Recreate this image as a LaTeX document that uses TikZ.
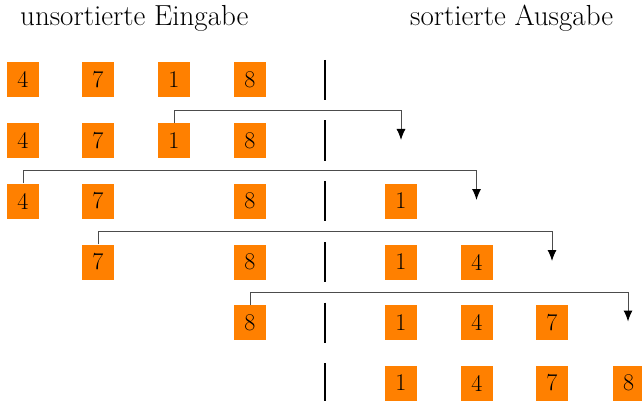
\documentclass[tikz,border=0pt]{standalone}
\usetikzlibrary{arrows.meta}
\definecolor{boxorange}{HTML}{FF8000}
\begin{document}
\begin{tikzpicture}[x=1pt,y=-1pt,
  numbox/.style={fill=boxorange,minimum width=32pt,minimum height=35pt,inner sep=0pt,font=\fontsize{24}{28}\selectfont},
  sepbar/.style={line width=1.8pt,black},
  moveline/.style={draw=black!70,line width=1pt,-{Latex[length=11pt,width=9pt,black]}},
  heading/.style={font=\fontsize{29}{33}\selectfont,inner sep=0pt,anchor=base west}]
\useasboundingbox (0,0) rectangle (642,401);
\node[heading] (hin) at (20,26) {unsortierte Eingabe};
\node[heading] (hout) at (410,26) {sortierte Ausgabe};
% row 1
\node[numbox] (a4) at (23,79.5) {4};
\node[numbox] (a7) at (98,79.5) {7};
\node[numbox] (a1) at (174,79.5) {1};
\node[numbox] (a8) at (250,79.5) {8};
% row 2
\node[numbox] (b4) at (23,140.5) {4};
\node[numbox] (b7) at (98,140.5) {7};
\node[numbox] (b1) at (174,140.5) {1};
\node[numbox] (b8) at (250,140.5) {8};
% row 3
\node[numbox] (c4) at (23,201) {4};
\node[numbox] (c7) at (98,201) {7};
\node[numbox] (c8) at (250,201) {8};
\node[numbox] (c1) at (401,201) {1};
% row 4
\node[numbox] (d7) at (98,262) {7};
\node[numbox] (d8) at (250,262) {8};
\node[numbox] (d1) at (401,262) {1};
\node[numbox] (d4) at (477,262) {4};
% row 5
\node[numbox] (e8) at (250,322.5) {8};
\node[numbox] (e1) at (401,322.5) {1};
\node[numbox] (e4) at (477,322.5) {4};
\node[numbox] (e7) at (552,322.5) {7};
% row 6
\node[numbox] (f1) at (401,383) {1};
\node[numbox] (f4) at (477,383) {4};
\node[numbox] (f7) at (552,383) {7};
\node[numbox] (f8) at (628.5,383) {8};
% separator bars
\foreach \r/\yc in {1/80,2/140.5,3/201,4/262,5/322.5,6/383}{
  \coordinate (bt\r) at (325,\yc-20);
  \coordinate (bb\r) at (325,\yc+20);
  \draw[sepbar] (bt\r) -- (bb\r);
}
% arrow targets
\coordinate (t2) at (401,140);
\coordinate (t3) at (476.5,200);
\coordinate (t4) at (552,261);
\coordinate (t5) at (628,321.5);
\draw[moveline] (b1.north) |- ([yshift=12.5pt]b1.north -| t2) -- (t2);
\draw[moveline] (c4.north) |- ([yshift=12.5pt]c4.north -| t3) -- (t3);
\draw[moveline] (d7.north) |- ([yshift=12.5pt]d7.north -| t4) -- (t4);
\draw[moveline] (e8.north) |- ([yshift=12.5pt]e8.north -| t5) -- (t5);
\end{tikzpicture}
\end{document}
